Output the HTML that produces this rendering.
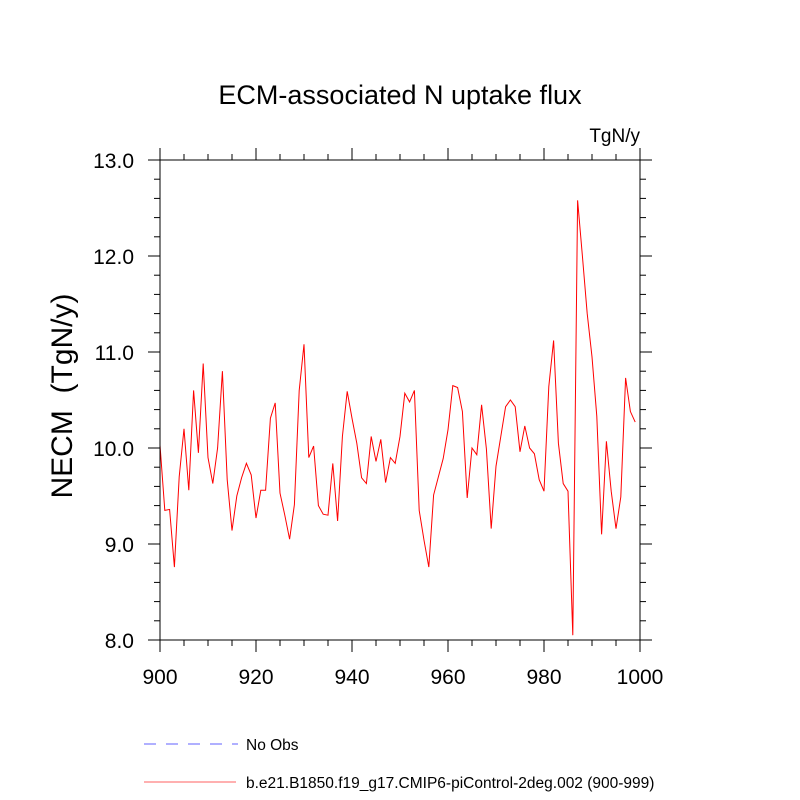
<!DOCTYPE html>
<html><head><meta charset="utf-8"><style>
body{margin:0;background:#fff}
svg{display:block;font-family:"Liberation Sans",sans-serif}
</style></head><body>
<svg id="c" width="800" height="800" xmlns="http://www.w3.org/2000/svg">
<text x="400" y="104" font-size="27" text-anchor="middle">ECM-associated N uptake flux</text>
<text x="640" y="142" font-size="19" text-anchor="end">TgN/y</text>
<text transform="translate(72,396) rotate(-90)" font-size="30" text-anchor="middle" xml:space="preserve">NECM&#160; (TgN/y)</text>
<g id="axes"></g>
<polyline id="line" fill="none" stroke="#ff0000" stroke-width="1"/>
<rect x="160" y="160" width="480" height="480" fill="none" stroke="#000" stroke-width="1"/>
<g>
<line x1="144" y1="744" x2="238" y2="744" stroke="#6060ff" stroke-width="1" stroke-dasharray="12,10"/>
<text x="246" y="750" font-size="15.5">No Obs</text>
<line x1="144" y1="782" x2="236" y2="782" stroke="#ff6060" stroke-width="1"/>
<text x="246" y="788" font-size="15.5">b.e21.B1850.f19_g17.CMIP6-piControl-2deg.002 (900-999)</text>
</g>
</svg>
<script>
const years=[];for(let i=900;i<=999;i++)years.push(i);
const values=[10.03,9.35,9.36,8.76,9.70,10.20,9.56,10.60,9.95,10.88,
9.90,9.63,10.0,10.80,9.67,9.14,9.50,9.69,9.84,9.72,
9.27,9.56,9.56,10.31,10.47,9.53,9.30,9.05,9.41,10.60,
11.08,9.90,10.02,9.40,9.31,9.30,9.84,9.24,10.12,10.59,
10.31,10.05,9.69,9.63,10.12,9.86,10.09,9.64,9.90,9.84,
10.12,10.57,10.48,10.60,9.35,9.04,8.76,9.51,9.70,9.89,
10.19,10.65,10.63,10.38,9.48,10.0,9.93,10.45,9.99,9.16,
9.81,10.12,10.43,10.50,10.43,9.96,10.23,10.0,9.94,9.67,
9.55,10.64,11.12,10.05,9.63,9.55,8.05,12.58,12.0,11.40,
10.95,10.33,9.10,10.07,9.55,9.16,9.49,10.73,10.38,10.27];
const xTicks=[900,920,940,960,980,1000];
const yTicks=[8.0,9.0,10.0,11.0,12.0,13.0];
const sx=v=>160+(v-900)*4.8, sy=v=>640-(v-8)*96;
const NS="http://www.w3.org/2000/svg";
const ax=document.getElementById('axes');
function ln(x1,y1,x2,y2,name){const l=document.createElementNS(NS,'line');
l.setAttribute('x1',x1);l.setAttribute('y1',y1);l.setAttribute('x2',x2);l.setAttribute('y2',y2);
l.setAttribute('stroke','#000');l.setAttribute('stroke-width','1');


ax.appendChild(l);}
function tx(x,y,s,anchor,name){const t=document.createElementNS(NS,'text');
t.setAttribute('x',x);t.setAttribute('y',y);t.setAttribute('font-size','21');t.setAttribute('text-anchor',anchor);t.textContent=s;


ax.appendChild(t);}
for(let v=900;v<=1000;v+=5){const x=sx(v),L=(v%20===0)?12:6;
ln(x,640,x,640+L,'x-tick');ln(x,160,x,160-L,'x-tick-top');}
for(let k=0;k<=25;k++){const v=8+k*0.2,y=sy(v),L=(k%5===0)?12:6;
ln(160,y,160-L,y,'y-tick');ln(640,y,640+L,y,'y-tick-right');}
xTicks.forEach(v=>tx(sx(v),684,String(v),'middle','x-tick-label'));
yTicks.forEach(v=>tx(134,sy(v)+8,v.toFixed(1),'end','y-tick-label'));
document.getElementById('line').setAttribute('points',years.map((y,i)=>sx(y)+','+sy(values[i])).join(' '));
</script>
</body></html>
